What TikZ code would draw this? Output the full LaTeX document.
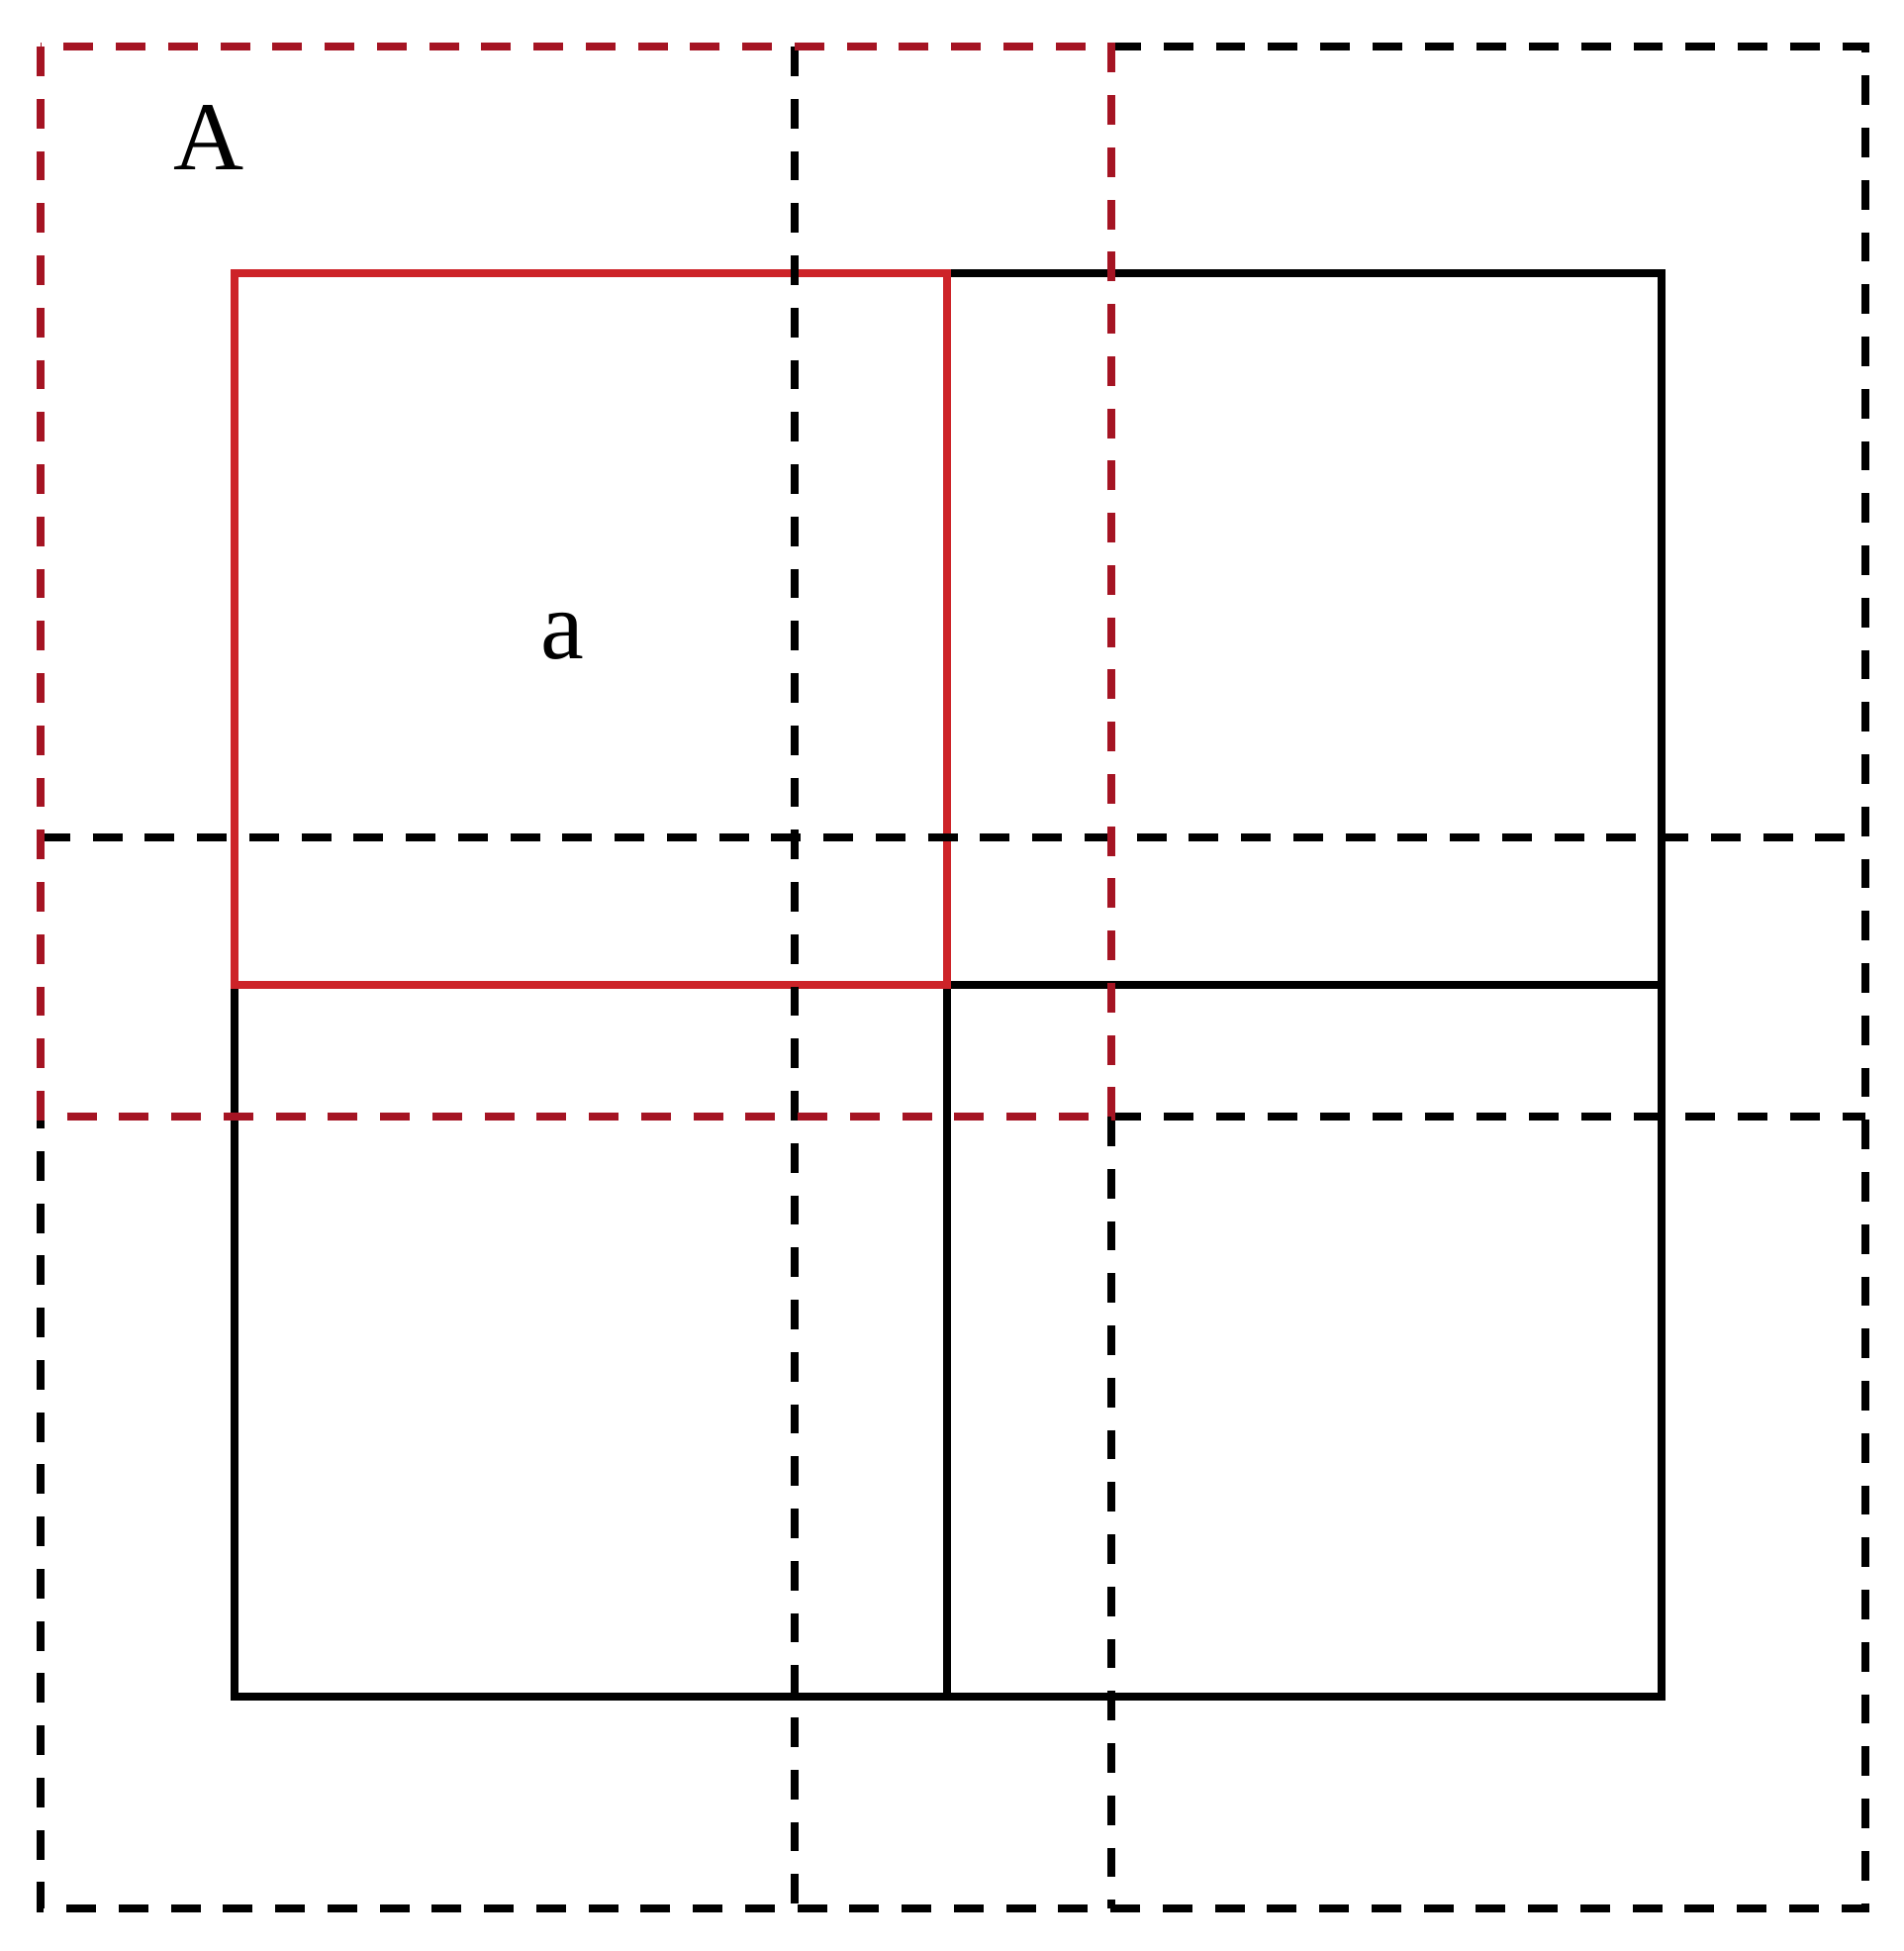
\documentclass[tikz,border=0pt]{standalone}
\usepackage{fontspec}
\setmainfont{Liberation Serif}
\definecolor{reddash}{RGB}{165,20,35}
\definecolor{redline}{RGB}{205,35,40}
\begin{document}
\begin{tikzpicture}[x=0.01cm,y=-0.01cm,
  win/.style={line width=2.4pt, dash pattern=on 8.5pt off 6.5pt},
  blackwin/.style={win, draw=black},
  redwin/.style={win, draw=reddash},
  block/.style={line width=2.1pt, draw=black},
  redblock/.style={line width=2.1pt, draw=redline},
  lbl/.style={font=\fontsize{28}{34}\selectfont, inner sep=0pt, anchor=base}]
\useasboundingbox (0,0) rectangle (1924,1971);
\fill[white] (0,0) rectangle (1924,1971);
% blocks
\draw[block] (957,276) rectangle (1679,995);
\draw[block] (237,995) rectangle (957,1714);
\draw[block] (957,995) rectangle (1679,1714);
\draw[redblock] (237,276) rectangle (957,995);
% overlapping windows (dashed grid)
\draw[blackwin] (1123,47) -- (1885,47) -- (1885,1928) -- (41,1928) -- (41,1128);
\draw[blackwin] (803,47) -- (803,1928);
\draw[blackwin] (1123,1128) -- (1123,1928);
\draw[blackwin] (41,846) -- (1885,846);
\draw[blackwin] (1123,1128) -- (1885,1128);
% highlighted window A
\draw[redwin] (41,47) rectangle (1123,1128);
% labels
\node[lbl] (labA) at (211,171) {A};
\node[lbl] (laba) at (568,665) {a};
\end{tikzpicture}
\end{document}
